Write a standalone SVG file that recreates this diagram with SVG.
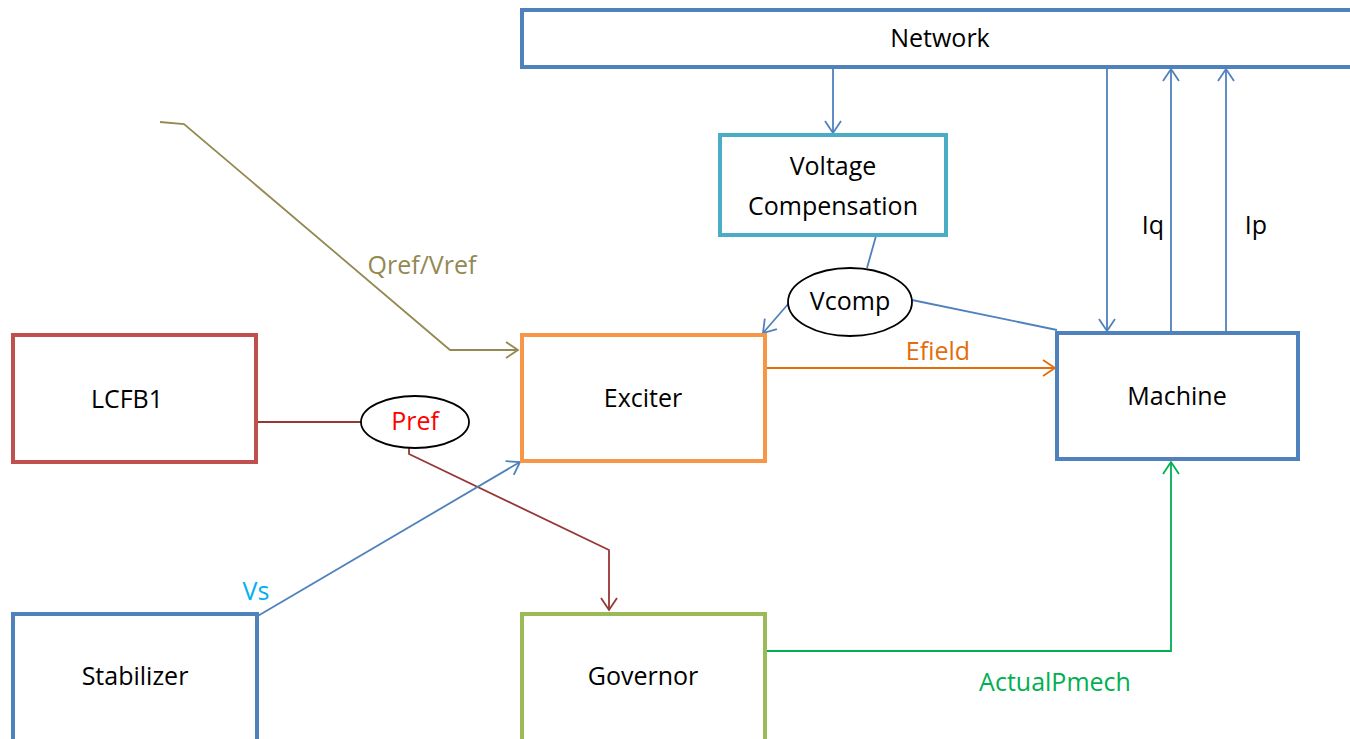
<svg xmlns="http://www.w3.org/2000/svg" width="1350" height="739" viewBox="0 0 1350 739">
<style>
.box{fill:#fff;stroke-width:4}
.t{font-family:"Open Sans","Liberation Sans",Arial,sans-serif;font-size:25px;fill:#000;text-anchor:middle}
.c{fill:none;stroke-width:1.8}
.e{fill:#fff;stroke:#000;stroke-width:1.8}
</style>
<defs>
<marker id="ab" markerUnits="userSpaceOnUse" markerWidth="18" markerHeight="20" refX="13" refY="9" orient="auto"><path d="M1,1 L13,9 L1,17" fill="none" stroke="#4F81BD" stroke-width="1.8"/></marker>
<marker id="ao" markerUnits="userSpaceOnUse" markerWidth="18" markerHeight="20" refX="13" refY="9" orient="auto"><path d="M1,1 L13,9 L1,17" fill="none" stroke="#E46C0A" stroke-width="1.8"/></marker>
<marker id="aq" markerUnits="userSpaceOnUse" markerWidth="18" markerHeight="20" refX="13" refY="9" orient="auto"><path d="M1,1 L13,9 L1,17" fill="none" stroke="#938953" stroke-width="1.8"/></marker>
<marker id="ar" markerUnits="userSpaceOnUse" markerWidth="18" markerHeight="20" refX="13" refY="9" orient="auto"><path d="M1,1 L13,9 L1,17" fill="none" stroke="#953735" stroke-width="1.8"/></marker>
<marker id="ag" markerUnits="userSpaceOnUse" markerWidth="18" markerHeight="20" refX="13" refY="9" orient="auto"><path d="M1,1 L13,9 L1,17" fill="none" stroke="#00B050" stroke-width="1.8"/></marker>
</defs>
<rect width="1350" height="739" fill="#fff"/>
<g id="connectors">
<line class="c" stroke="#4F81BD" x1="833" y1="67" x2="833" y2="133" marker-end="url(#ab)"/>
<line class="c" stroke="#4F81BD" x1="1107" y1="67" x2="1107" y2="331" marker-end="url(#ab)"/>
<line class="c" stroke="#4F81BD" x1="1171" y1="331" x2="1171" y2="69" marker-end="url(#ab)"/>
<line class="c" stroke="#4F81BD" x1="1226" y1="331" x2="1226" y2="69" marker-end="url(#ab)"/>
<line class="c" stroke="#4F81BD" x1="876" y1="236" x2="867" y2="268"/>
<line class="c" stroke="#4F81BD" x1="789" y1="303" x2="763" y2="333" marker-end="url(#ab)"/>
<line class="c" stroke="#4F81BD" x1="912" y1="300" x2="1057" y2="330"/>
<line class="c" stroke="#E46C0A" x1="766" y1="368" x2="1055" y2="368" marker-end="url(#ao)"/>
<polyline class="c" stroke="#938953" points="160,122 184,124 450,350 518,350" marker-end="url(#aq)"/>
<line class="c" stroke="#953735" x1="258" y1="422" x2="361" y2="422"/>
<polyline class="c" stroke="#953735" points="409,448 409,454 609,550 609,610" marker-end="url(#ar)"/>
<line class="c" stroke="#4F81BD" x1="256" y1="617" x2="520" y2="462" marker-end="url(#ab)"/>
<polyline class="c" stroke="#00B050" points="766,651 1171,651 1171,462" marker-end="url(#ag)"/>
<text class="t" x="422" y="274" style="fill:#938953">Qref/Vref</text>
<text class="t" x="938" y="360" style="fill:#E46C0A">Efield</text>
<text class="t" x="256" y="600" style="fill:#00B0F0">Vs</text>
<text class="t" x="1055" y="691" style="fill:#00B050">ActualPmech</text>
<text class="t" x="1153" y="234">Iq</text>
<text class="t" x="1256" y="234">Ip</text>
</g>
<g id="network"><rect class="box" x="522" y="10" width="840" height="57" stroke="#4F81BD"/><text class="t" x="940" y="47">Network</text></g>
<g id="voltage-compensation"><rect class="box" x="720" y="135" width="226" height="100" stroke="#4BACC6"/><text class="t" x="833" y="175">Voltage</text><text class="t" x="833" y="215">Compensation</text></g>
<g id="vcomp"><ellipse class="e" cx="850" cy="302" rx="62" ry="34"/><text class="t" x="850" y="310">Vcomp</text></g>
<g id="exciter"><rect class="box" x="522" y="335" width="243" height="126" stroke="#F79646"/><text class="t" x="643" y="407">Exciter</text></g>
<g id="machine"><rect class="box" x="1057" y="333" width="241" height="126" stroke="#4F81BD"/><text class="t" x="1177" y="405">Machine</text></g>
<g id="lcfb1"><rect class="box" x="13" y="335" width="243" height="127" stroke="#C0504D"/><text class="t" x="127" y="408">LCFB1</text></g>
<g id="pref"><ellipse class="e" cx="415" cy="422" rx="54" ry="26"/><text class="t" x="415" y="430" style="fill:#FF0000">Pref</text></g>
<g id="stabilizer"><rect class="box" x="13" y="614" width="244" height="140" stroke="#4F81BD"/><text class="t" x="135" y="685">Stabilizer</text></g>
<g id="governor"><rect class="box" x="522" y="614" width="243" height="140" stroke="#9BBB59"/><text class="t" x="643" y="685">Governor</text></g>
</svg>
